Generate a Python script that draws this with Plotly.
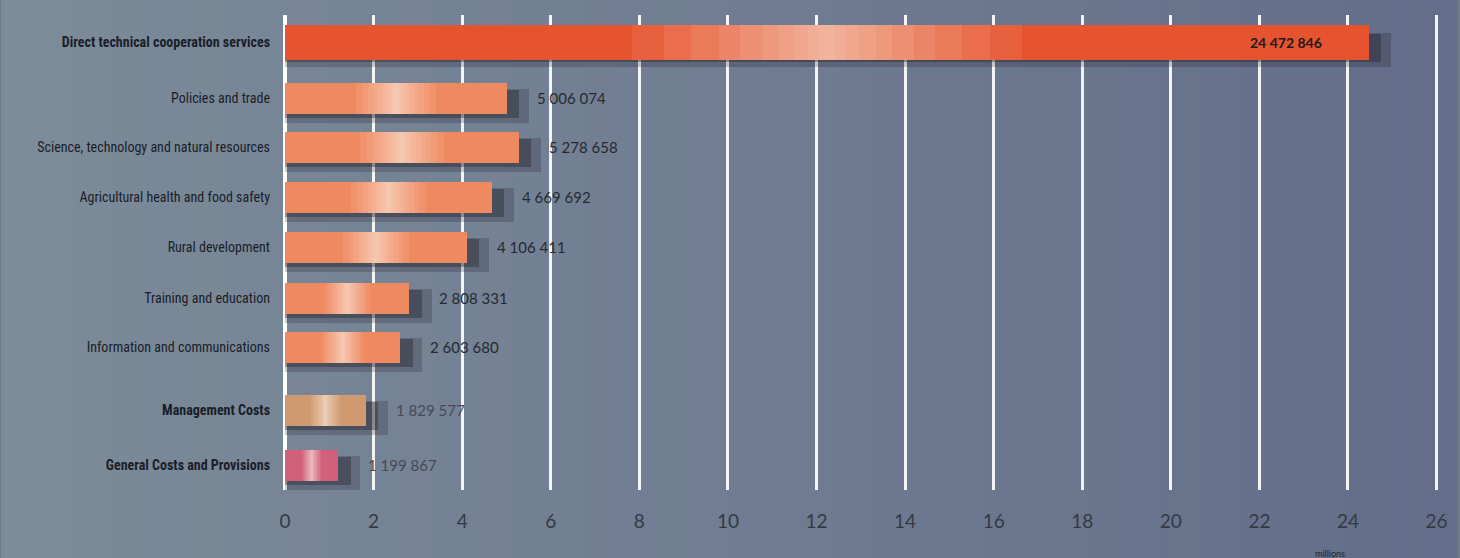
import plotly.graph_objects as go

categories = [
    "<b>Direct technical cooperation services</b>",
    "Policies and trade",
    "Science, technology and natural resources",
    "Agricultural health and food safety",
    "Rural development",
    "Training and education",
    "Information and communications",
    "<b>Management Costs</b>",
    "<b>General Costs and Provisions</b>",
]
values = [24472846, 5006074, 5278658, 4669692, 4106411, 2808331, 2603680, 1829577, 1199867]
value_labels = ["24 472 846", "5 006 074", "5 278 658", "4 669 692", "4 106 411",
                "2 808 331", "2 603 680", "1 829 577", "1 199 867"]
tick_vals = list(range(0, 27, 2))

# layout: row centres (pixel-like units), colours
row_pos = [42, 98, 147, 197, 247, 298, 347, 410, 465]
bar_colors = ["#e6532f"] + ["#ef8a60"] * 6 + ["#cf9a70", "#d2607c"]
bar_widths = [35] + [31] * 8

vals_m = [v / 1e6 for v in values]

fig = go.Figure()

# background gradient stripes (paper coords)
n = 40
x_left, x_right = -285 / 1161, 1 + 14 / 1161
for i in range(n):
    t = i / (n - 1)
    r = int(124 - 24 * t)
    g = int(140 - 30 * t)
    b = int(154 - 16 * t)
    fig.add_shape(type="rect", xref="paper", yref="paper",
                  x0=x_left + (x_right - x_left) * i / n,
                  x1=x_left + (x_right - x_left) * (i + 1) / n + 0.002,
                  y0=-0.2, y1=1.1, fillcolor=f"rgb({r},{g},{b})",
                  line_width=0, layer="below")

# soft shadows (two layers)
for dx, dy, w, a in [(0.5, 8, 34, 0.22), (0.28, 6, 28, 0.35)]:
    fig.add_trace(go.Bar(
        y=[p + dy for p in row_pos], x=[v + dx for v in vals_m], orientation="h",
        width=w, marker=dict(color=f"rgba(30,25,35,{a})", line_width=0),
        hoverinfo="skip", showlegend=False))

# main bars
fig.add_trace(go.Bar(
    y=row_pos, x=vals_m, orientation="h", width=bar_widths,
    marker=dict(color=bar_colors, line_width=0),
    showlegend=False))

# highlight bands (stepped gradient)
steps = [0.36, 0.30, 0.25, 0.20, 0.16, 0.12, 0.09, 0.06, 0.035, 0.015]
for frac in steps:
    fig.add_trace(go.Bar(
        y=row_pos, x=[v * frac for v in vals_m],
        base=[v * (0.5 - frac / 2) for v in vals_m],
        orientation="h", width=bar_widths,
        marker=dict(color="rgba(255,242,238,0.09)", line_width=0),
        hoverinfo="skip", showlegend=False))

# value labels
for i, (v, lab) in enumerate(zip(vals_m, value_labels)):
    if i == 0:
        fig.add_annotation(x=v, y=row_pos[i], text="<b>" + lab + "</b>",
                           xanchor="right", xshift=-45, showarrow=False,
                           font=dict(size=14, color="#1c1a1c",
                                     family="Liberation Sans Narrow, Lato, sans-serif"))
    else:
        fig.add_annotation(x=v, y=row_pos[i], text=lab, xanchor="left",
                           xshift=28, showarrow=False,
                           font=dict(size=15, color="#262a30" if i < 7 else "#454a58",
                                     family="Lato, sans-serif"))

fig.add_annotation(x=23.6, y=0, xref="x", yref="paper", yanchor="top",
                   text="millions", showarrow=False, yshift=-56,
                   font=dict(size=9, color="#20242a", family="Lato, sans-serif"))

fig.update_layout(
    width=1460, height=558,
    margin=dict(l=285, r=14, t=15, b=68),
    paper_bgcolor="rgb(110,124,142)",
    plot_bgcolor="rgba(0,0,0,0)",
    barmode="overlay",
    bargap=0,
    xaxis=dict(range=[0, 26.1], tickvals=tick_vals, showgrid=True,
               gridcolor="rgba(255,255,255,0.92)", gridwidth=2.5, zeroline=True,
               zerolinecolor="white", zerolinewidth=4, showline=False,
               ticks="", ticklabelstandoff=18,
               tickfont=dict(size=19, color="#343a44", family="Lato, sans-serif")),
    yaxis=dict(range=[490, 15], tickvals=row_pos, ticktext=categories,
               showgrid=False, zeroline=False, ticks="", ticklabelstandoff=14,
               tickfont=dict(size=14, color="#1a1e28",
                             family="Liberation Sans Narrow, Roboto Condensed, sans-serif")),
    showlegend=False,
)

fig.write_html("out.html", config={"displayModeBar": False},
               post_script="document.body.style.margin='0';document.body.style.overflow='hidden';")
